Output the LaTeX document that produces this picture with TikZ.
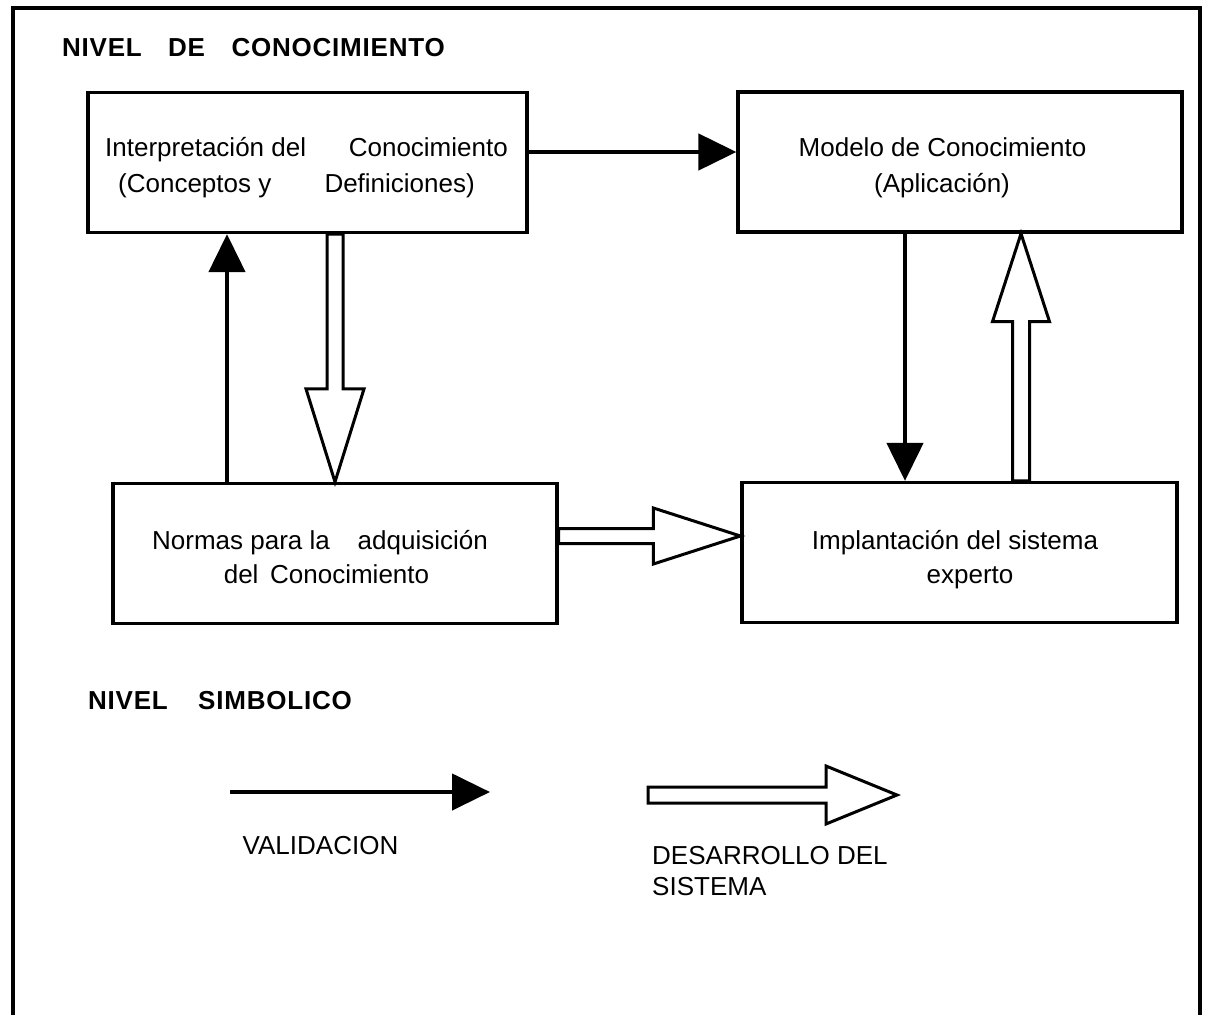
\documentclass[tikz,border=0pt]{standalone}
\usepackage{fontspec}
\setmainfont{Liberation Sans}
\usetikzlibrary{arrows.meta,calc}
\begin{document}
\begin{tikzpicture}[x=1pt,y=-1pt,
  box/.style={draw, line width=3.2pt, inner sep=0pt, minimum width=#1, minimum height=140pt},
  txt/.style={inner sep=0pt, font=\fontsize{26}{30}\selectfont},
  heading/.style={inner sep=0pt, font=\fontsize{26}{30}\selectfont\bfseries\addfontfeature{LetterSpace=3}},
  val/.style={line width=4.5pt, -{Triangle[length=38pt,width=36pt]}},
  dev/.style={line width=3pt, line join=miter, fill=white}
]
\useasboundingbox (0,0) rectangle (1213,1015);

% outer frame, open at the bottom
\draw[line width=3.5pt] (13,1015) -- (13,8) -- (1200,8) -- (1200,1015);

% level headings
\node[heading, anchor=base west] (h1a) at (62,56) {NIVEL};
\node[heading, anchor=base west] (h1b) at (168,56) {DE};
\node[heading, anchor=base east] (h1c) at (445,56) {CONOCIMIENTO};
\node[heading, anchor=base west] (h2a) at (88,709) {NIVEL};
\node[heading, anchor=base east] (h2b) at (352,709) {SIMBOLICO};

% boxes
\node[box=439pt] (b1) at (307.5,162.5) {};
\node[box=444pt] (b2) at (960,162) {};
\node[box=444pt] (b3) at (335,553.5) {};
\node[box=435pt] (b4) at (959.5,552.5) {};

% box texts
\node[txt, anchor=base west] (t1a) at (105,156) {Interpretación del};
\node[txt, anchor=base east] (t1b) at (508,156) {Conocimiento};
\node[txt, anchor=base west] (t1c) at (118,192) {(Conceptos y};
\node[txt, anchor=base east] (t1d) at (475,192) {Definiciones)};

\node[txt, anchor=base] (t2a) at (942.5,156) {Modelo de Conocimiento};
\node[txt, anchor=base] (t2b) at (942,192) {(Aplicación)};

\node[txt, anchor=base west] (t3a) at (152,549) {Normas para la};
\node[txt, anchor=base east] (t3b) at (488,549) {adquisición};
\node[txt, anchor=base] (t3c) at (326.5,583) {del\hspace{0.45em}Conocimiento};

\node[txt, anchor=base] (t4a) at (955,549) {Implantación del sistema};
\node[txt, anchor=base] (t4b) at (970,583) {experto};

% validation connectors
\coordinate (r1) at (0,152);
\coordinate (c1) at (227,0);
\coordinate (c2) at (905,0);
\draw[val] (b1.east |- r1) -- (b2.west |- r1);
\draw[val] (b3.north -| c1) -- (b1.south -| c1);
\draw[val] (b2.south -| c2) -- (b4.north -| c2);

% development connectors (hollow arrows)
\coordinate (hd) at (335,0);
\draw[dev] ($(b1.south -| hd)+(-8,0)$) -- ($(b3.north -| hd)+(-8,-93)$)
  -- ($(b3.north -| hd)+(-29,-93)$) -- (b3.north -| hd)
  -- ($(b3.north -| hd)+(29,-93)$) -- ($(b3.north -| hd)+(8,-93)$)
  -- ($(b1.south -| hd)+(8,0)$) -- cycle;

\coordinate (hu) at (1021,0);
\draw[dev] ($(b4.north -| hu)+(-8.5,0)$) -- ($(b2.south -| hu)+(-8.5,88)$)
  -- ($(b2.south -| hu)+(-28.5,88)$) -- (b2.south -| hu)
  -- ($(b2.south -| hu)+(28.5,88)$) -- ($(b2.south -| hu)+(8.5,88)$)
  -- ($(b4.north -| hu)+(8.5,0)$) -- cycle;

\coordinate (hr) at (0,536);
\draw[dev] ($(b3.east |- hr)+(0,-7.5)$) -- ($(b4.west |- hr)+(-87,-7.5)$)
  -- ($(b4.west |- hr)+(-87,-28)$) -- (b4.west |- hr)
  -- ($(b4.west |- hr)+(-87,28)$) -- ($(b4.west |- hr)+(-87,7.5)$)
  -- ($(b3.east |- hr)+(0,7.5)$) -- cycle;

% legend
\coordinate (va) at (230,792);
\coordinate (vb) at (490,792);
\draw[val] (va) -- (vb);
\node[txt, anchor=base] (lv) at (320.5,854) {VALIDACION};

\coordinate (da) at (648,795);
\coordinate (db) at (897,795);
\draw[dev] ($(da)+(0,-8)$) -- ($(db)+(-71,-8)$) -- ($(db)+(-71,-29)$) -- (db)
  -- ($(db)+(-71,29)$) -- ($(db)+(-71,8)$) -- ($(da)+(0,8)$) -- cycle;
\node[txt, anchor=base west] (ld1) at (652,864) {DESARROLLO DEL};
\node[txt, anchor=base west] (ld2) at (652,895) {SISTEMA};
\end{tikzpicture}
\end{document}
